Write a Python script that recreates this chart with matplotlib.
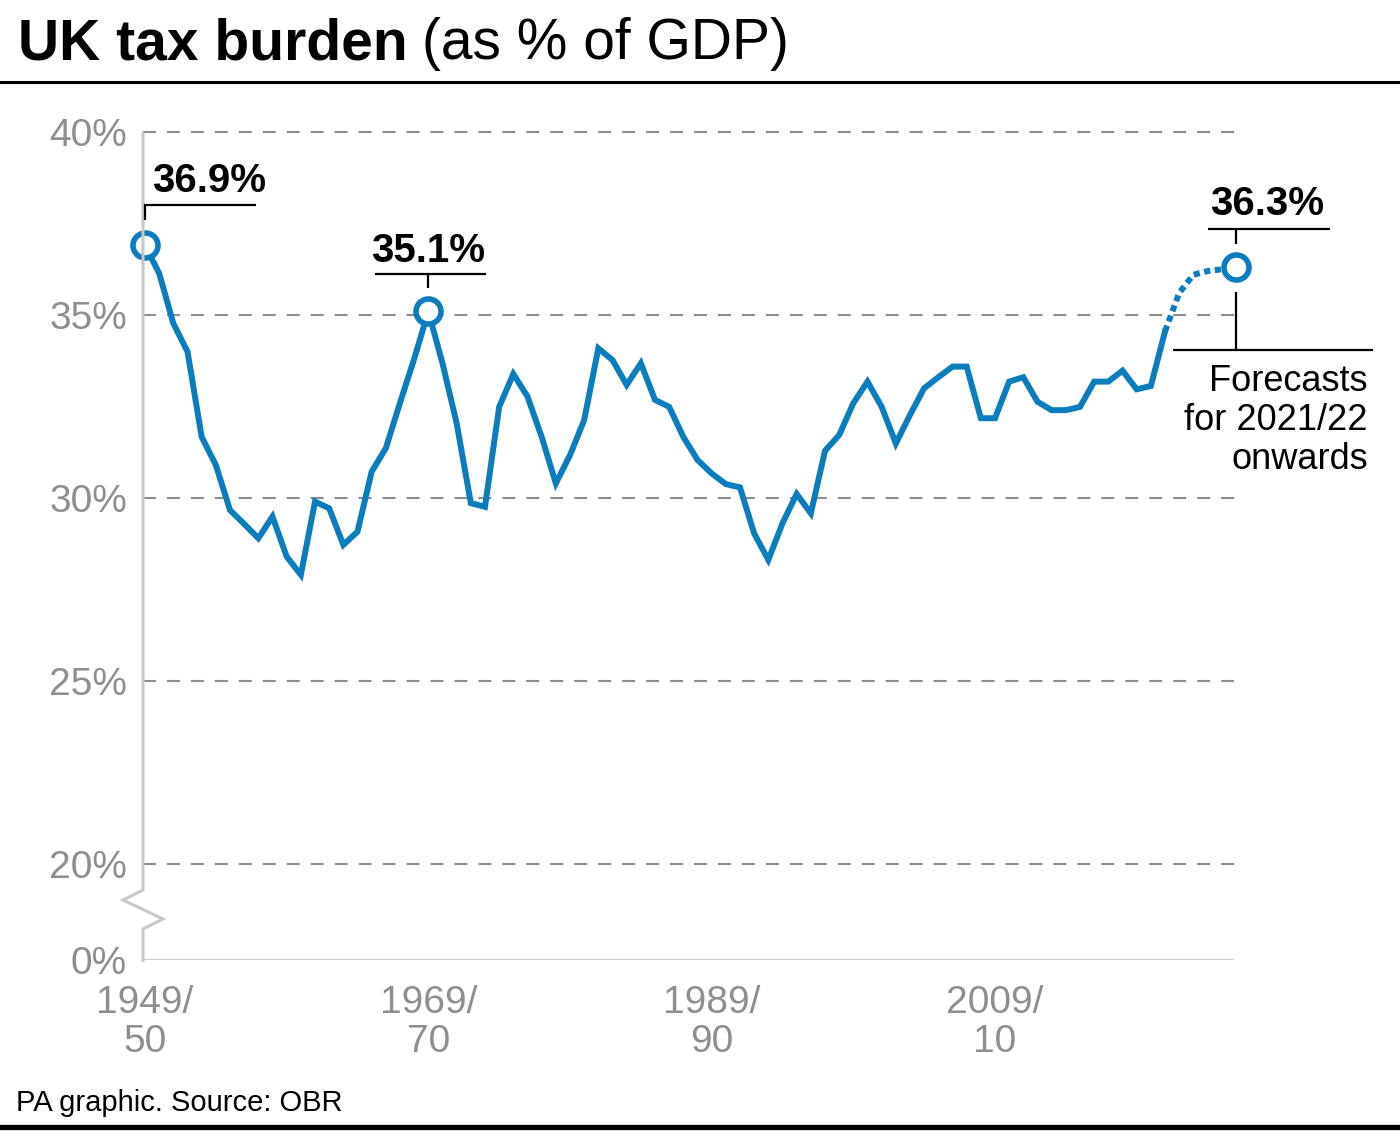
import matplotlib
matplotlib.use("Agg")
import matplotlib.pyplot as plt
from matplotlib.lines import Line2D
from matplotlib.transforms import IdentityTransform

# Data (financial year start -> tax as % of GDP)
years_actual = list(range(1949, 2022))
tax_actual = [
    36.9, 36.14, 34.77, 34.0, 31.67, 30.9, 29.67, 29.29, 28.9, 29.49,
    28.4, 27.9, 29.9, 29.72, 28.72, 29.08, 30.72, 31.36, 32.6, 33.8,
    35.1, 33.68, 32.04, 29.86, 29.76, 32.49, 33.39, 32.77, 31.67, 30.4,
    31.17, 32.13, 34.09, 33.77, 33.09, 33.68, 32.68, 32.49, 31.67, 31.04,
    30.67, 30.38, 30.29, 29.03, 28.31, 29.31, 30.11, 29.58, 31.29, 31.72,
    32.59, 33.18, 32.49, 31.49, 32.27, 33.0, 33.3, 33.59, 33.59, 32.18,
    32.18, 33.18, 33.3, 32.63, 32.4, 32.4, 32.49, 33.18, 33.18, 33.48,
    32.97, 33.06, 34.55,
]
years_forecast = list(range(2021, 2027))
tax_forecast = [34.55, 35.6, 36.1, 36.2, 36.25, 36.3]

ytick_values = [20, 25, 30, 35, 40]
xtick_years = [1949, 1969, 1989, 2009]
xtick_labels = ["1949/\n50", "1969/\n70", "1989/\n90", "2009/\n10"]

highlights = [(1949, 36.9, "36.9%"), (1969, 35.1, "35.1%"), (2026, 36.3, "36.3%")]

# Style
W, H, DPI = 1400, 1138, 100
BLUE = "#0b7dbd"
GRID = "#8c8c8c"
AXIS = "#c8c8c8"
TICK = "#8e8e8e"
FONT = ["Liberation Sans", "DejaVu Sans"]

PX_PER_PCT = 36.6
PX_PER_YEAR = 850 / 60


def pt(px):
    return px * 72 / DPI


plt.rcParams["font.family"] = FONT

fig = plt.figure(figsize=(W / DPI, H / DPI), dpi=DPI)

ax_left, ax_right, ax_top, ax_bottom = 143, 1380, 120, 960
ax = fig.add_axes([ax_left / W, 1 - ax_bottom / H,
                   (ax_right - ax_left) / W, (ax_bottom - ax_top) / H])
x0 = 1949 - 2 / PX_PER_YEAR
x1 = 1949 + (ax_right - 145) / PX_PER_YEAR
y_base = 40 - (ax_bottom - 132) / PX_PER_PCT
y_top = 40 + (132 - ax_top) / PX_PER_PCT
ax.set_xlim(x0, x1)
ax.set_ylim(y_base, y_top)
for s in ax.spines.values():
    s.set_visible(False)

# gridlines
grid_end = 1949 + (1240 - 145) / PX_PER_YEAR
ax.hlines(ytick_values, x0, grid_end, colors=GRID, linewidth=1.5,
          linestyles=(0, (6.2, 5.3)), zorder=1)

# x axis
ax.plot([x0, 1949 + (1233 - 145) / PX_PER_YEAR], [y_base, y_base],
        color=AXIS, linewidth=2.2, solid_capstyle="butt", zorder=1)

# ticks
ax.set_yticks([y_base] + ytick_values)
ax.set_yticklabels(["0%"] + [f"{v}%" for v in ytick_values])
ax.set_xticks(xtick_years)
ax.set_xticklabels(xtick_labels, linespacing=1.12)
ax.tick_params(axis="y", length=0, pad=pt(16), labelsize=28, labelcolor=TICK)
ax.tick_params(axis="x", length=0, pad=pt(25), labelsize=28, labelcolor=TICK)

# data line
ax.plot(years_actual, tax_actual, color=BLUE, linewidth=4.3,
        solid_joinstyle="miter", zorder=3)
ax.plot(years_forecast, tax_forecast, color=BLUE, linewidth=4.3,
        linestyle=(0, (1.05, 0.75)), dash_capstyle="butt", zorder=3)
hx = [h[0] for h in highlights]
hy = [h[1] for h in highlights]
ax.plot(hx, hy, "o", markersize=18, markerfacecolor="white",
        markeredgecolor=BLUE, markeredgewidth=4, zorder=4, clip_on=False)


def px_line(x, y, offsets, color="black", lw=1.6):
    ox, oy = ax.transData.transform((x, y))
    xs = [ox + dx for dx, dy in offsets]
    ys = [oy + dy for dx, dy in offsets]
    fig.add_artist(Line2D(xs, ys, transform=IdentityTransform(),
                          color=color, linewidth=lw,
                          solid_capstyle="butt", solid_joinstyle="miter"))


# y-axis with break
ox, oy40 = ax.transData.transform((x0, 40))
_, oy20 = ax.transData.transform((x0, 20))
_, oyb = ax.transData.transform((x0, y_base))
zig = [(0, oy40 - oy20), (0, -26), (-20, -36), (20, -55), (0, -65), (0, oyb - oy20 - 2)]
px_line(x0, 20, zig, color=AXIS, lw=2.2)

# annotations
bold = dict(fontsize=29, fontweight="bold", color="black",
            textcoords="offset points", va="baseline")
# 1949/50
px_line(1949, 36.9, [(0, 25), (0, 40), (111, 40)])
ax.annotate(highlights[0][2], xy=(1949, 36.9), xytext=(pt(7), pt(53)), ha="left", **bold)
# 1969/70
px_line(1969, 35.1, [(0, 23), (0, 37)])
px_line(1969, 35.1, [(-53, 37), (58, 37)])
ax.annotate(highlights[1][2], xy=(1969, 35.1), xytext=(0, pt(49)), ha="center", **bold)
# 2026/27
px_line(2026, 36.3, [(0, 23), (0, 38)])
px_line(2026, 36.3, [(-28, 38), (94, 38)])
ax.annotate(highlights[2][2], xy=(2026, 36.3), xytext=(pt(31), pt(52)), ha="center", **bold)
px_line(2026, 36.3, [(0, -25), (0, -83)])
px_line(2026, 36.3, [(-63, -83), (137, -83)])
ax.annotate("Forecasts\nfor 2021/22\nonwards", xy=(2026, 36.3),
            xytext=(pt(132), pt(-97)), textcoords="offset points",
            ha="right", va="top", fontsize=26, color="black",
            linespacing=1.14)

# title
t1 = fig.text(18 / W, 1 - 59 / H, "UK tax burden", fontsize=41, fontweight="bold",
              va="baseline", ha="left")
fig.canvas.draw()
bb = t1.get_window_extent()
fig.text((bb.x1 + 14) / W, 1 - 59 / H, "(as % of GDP)", fontsize=41,
         va="baseline", ha="left")

fig.add_artist(Line2D([0, 1], [1 - 82 / H, 1 - 82 / H], transform=fig.transFigure,
                      color="black", linewidth=2.2))
fig.add_artist(Line2D([0, 1], [1 - 1127 / H, 1 - 1127 / H], transform=fig.transFigure,
                      color="black", linewidth=3.8))

fig.text(16 / W, 1 - 1111 / H, "PA graphic. Source: OBR", fontsize=21,
         va="baseline", ha="left")

fig.savefig("out.png", dpi=DPI)
